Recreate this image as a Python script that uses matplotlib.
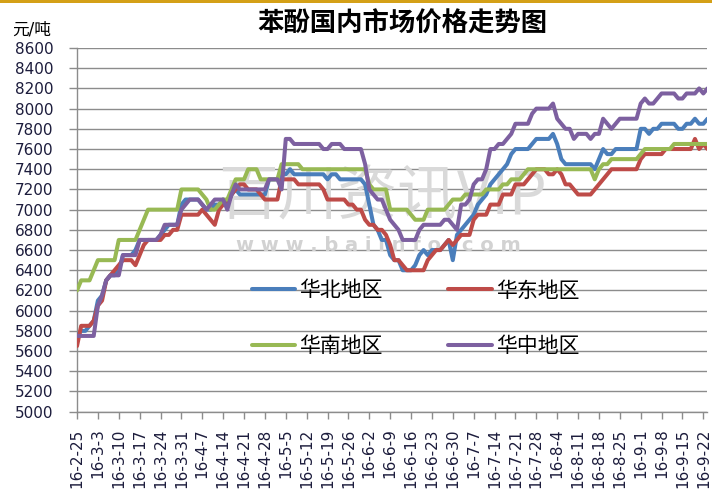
import matplotlib
matplotlib.use('Agg')
import matplotlib.pyplot as plt
import numpy as np

plt.rcParams['font.family'] = ['DejaVu Sans', 'Noto Sans CJK SC']

# weekly tick labels, one every 5 trading days
tick_labels = ['16-2-25', '16-3-3', '16-3-10', '16-3-17', '16-3-24', '16-3-31',
               '16-4-7', '16-4-14', '16-4-21', '16-4-28', '16-5-5', '16-5-12',
               '16-5-19', '16-5-26', '16-6-2', '16-6-9', '16-6-16', '16-6-23',
               '16-6-30', '16-7-7', '16-7-14', '16-7-21', '16-7-28', '16-8-4',
               '16-8-11', '16-8-18', '16-8-25', '16-9-1', '16-9-8', '16-9-15',
               '16-9-22']

names = ['华北地区', '华东地区', '华南地区', '华中地区']

# daily prices (yuan/ton), 5 values per row = one week
north = [5750, 5800, 5800, 5850, 5900,
         6100, 6150, 6300, 6350, 6350,
         6400, 6550, 6550, 6550, 6600,
         6700, 6700, 6700, 6700, 6700,
         6750, 6800, 6850, 6850, 6850,
         7050, 7100, 7100, 7100, 7100,
         7050, 7000, 7000, 7050, 7050,
         7100, 7050, 7150, 7200, 7150,
         7150, 7150, 7150, 7150, 7150,
         7150, 7300, 7300, 7300, 7350,
         7350, 7400, 7350, 7350, 7350,
         7350, 7350, 7350, 7350, 7350,
         7300, 7350, 7350, 7300, 7300,
         7300, 7300, 7300, 7300, 7250,
         7050, 6850, 6800, 6700, 6700,
         6550, 6500, 6500, 6400, 6400,
         6400, 6450, 6550, 6600, 6550,
         6600, 6600, 6600, 6650, 6700,
         6500, 6750, 6800, 6850, 6900,
         6950, 7050, 7100, 7150, 7250,
         7300, 7350, 7400, 7450, 7550,
         7600, 7600, 7600, 7600, 7650,
         7700, 7700, 7700, 7700, 7750,
         7650, 7500, 7450, 7450, 7450,
         7450, 7450, 7450, 7450, 7400,
         7500, 7600, 7550, 7550, 7600,
         7600, 7600, 7600, 7600, 7600,
         7800, 7800, 7750, 7800, 7800,
         7850, 7850, 7850, 7850, 7800,
         7800, 7850, 7850, 7900, 7850,
         7850, 7900]

east = [5650, 5850, 5850, 5850, 5900,
        6050, 6100, 6300, 6350, 6400,
        6450, 6500, 6500, 6500, 6450,
        6550, 6650, 6700, 6700, 6700,
        6700, 6750, 6750, 6800, 6800,
        6950, 6950, 6950, 6950, 6950,
        7000, 6950, 6900, 6850, 7000,
        7050, 7050, 7150, 7200, 7250,
        7250, 7200, 7200, 7200, 7150,
        7100, 7100, 7100, 7100, 7300,
        7300, 7300, 7300, 7250, 7250,
        7250, 7250, 7250, 7250, 7200,
        7100, 7100, 7100, 7100, 7100,
        7050, 7050, 7000, 7000, 6900,
        6850, 6850, 6800, 6800, 6750,
        6650, 6500, 6500, 6450, 6400,
        6400, 6400, 6400, 6400, 6500,
        6550, 6600, 6600, 6650, 6700,
        6650, 6700, 6750, 6750, 6750,
        6900, 6950, 6950, 6950, 7050,
        7050, 7050, 7150, 7150, 7150,
        7250, 7250, 7250, 7300, 7350,
        7400, 7400, 7400, 7350, 7350,
        7400, 7350, 7250, 7250, 7200,
        7150, 7150, 7150, 7150, 7200,
        7250, 7300, 7350, 7400, 7400,
        7400, 7400, 7400, 7400, 7400,
        7500, 7550, 7550, 7550, 7550,
        7550, 7600, 7600, 7600, 7600,
        7600, 7600, 7600, 7700, 7600,
        7650, 7600]

south = [6200, 6300, 6300, 6300, 6400,
         6500, 6500, 6500, 6500, 6500,
         6700, 6700, 6700, 6700, 6700,
         6800, 6900, 7000, 7000, 7000,
         7000, 7000, 7000, 7000, 7000,
         7200, 7200, 7200, 7200, 7200,
         7150, 7100, 7000, 7000, 7050,
         7100, 7100, 7200, 7300, 7300,
         7300, 7400, 7400, 7400, 7300,
         7300, 7300, 7300, 7300, 7450,
         7450, 7450, 7450, 7450, 7400,
         7400, 7400, 7400, 7400, 7400,
         7400, 7400, 7400, 7400, 7400,
         7400, 7400, 7400, 7400, 7400,
         7250, 7200, 7200, 7200, 7200,
         7000, 7000, 7000, 7000, 7000,
         6950, 6900, 6900, 6900, 7000,
         7000, 7000, 7000, 7000, 7050,
         7100, 7100, 7100, 7150, 7150,
         7150, 7150, 7150, 7200, 7200,
         7200, 7200, 7250, 7250, 7300,
         7300, 7300, 7350, 7400, 7400,
         7400, 7400, 7400, 7400, 7400,
         7400, 7400, 7400, 7400, 7400,
         7400, 7400, 7400, 7400, 7300,
         7400, 7450, 7450, 7500, 7500,
         7500, 7500, 7500, 7500, 7500,
         7550, 7600, 7600, 7600, 7600,
         7600, 7600, 7600, 7650, 7650,
         7650, 7650, 7650, 7650, 7650,
         7650, 7650]

central = [5750, 5750, 5750, 5750, 5750,
           6050, 6150, 6300, 6350, 6350,
           6350, 6550, 6550, 6550, 6550,
           6700, 6700, 6700, 6700, 6700,
           6750, 6850, 6850, 6850, 6850,
           7000, 7050, 7100, 7100, 7100,
           7050, 7000, 7050, 7100, 7100,
           7100, 7000, 7150, 7250, 7200,
           7200, 7200, 7200, 7200, 7200,
           7200, 7300, 7300, 7300, 7200,
           7700, 7700, 7650, 7650, 7650,
           7650, 7650, 7650, 7650, 7600,
           7600, 7650, 7650, 7650, 7600,
           7600, 7600, 7600, 7600, 7450,
           7200, 7150, 7100, 7100, 7000,
           6900, 6850, 6800, 6700, 6700,
           6700, 6700, 6800, 6850, 6850,
           6850, 6850, 6850, 6900, 6900,
           6850, 6800, 7050, 7050, 7100,
           7250, 7300, 7300, 7400, 7600,
           7600, 7650, 7650, 7700, 7750,
           7850, 7850, 7850, 7850, 7950,
           8000, 8000, 8000, 8000, 8050,
           7900, 7850, 7800, 7800, 7700,
           7750, 7750, 7750, 7700, 7750,
           7750, 7900, 7850, 7800, 7850,
           7900, 7900, 7900, 7900, 7900,
           8050, 8100, 8050, 8050, 8100,
           8150, 8150, 8150, 8150, 8100,
           8100, 8150, 8150, 8150, 8200,
           8150, 8200]

colors = ['#4A7EBB', '#BE4B48', '#98B954', '#7D60A0']

fig = plt.figure(figsize=(7.12, 4.91), dpi=100)
ax = fig.add_axes([77 / 712, 1 - 411.7 / 491, 630.5 / 712, 363.7 / 491])

# watermark
ax.text(382 / 712, 1 - 198 / 491, '百川资讯VIP', transform=fig.transFigure,
        fontsize=43, color='#d9d9d9', ha='center', va='center', zorder=1,
        family=['Noto Sans CJK SC', 'DejaVu Sans'])
ax.text(378 / 712, 1 - 246 / 491, 'w w w . b a i i n f o . c o m', transform=fig.transFigure,
        fontsize=14, color='#d2d2d2', ha='center', va='center', zorder=1,
        fontweight='bold')

lines = []
for vals, name, c in zip([north, east, south, central], names, colors):
    x = np.arange(len(vals))
    ln, = ax.plot(x, vals, color=c, lw=2.9, label=name, zorder=3,
                  solid_joinstyle='round', solid_capstyle='round')
    lines.append(ln)

ax.set_xlim(0, len(north) - 1)
ax.set_ylim(5000, 8600)
ax.set_yticks(np.arange(5000, 8601, 200))
ax.set_xticks(np.arange(0, 5 * len(tick_labels), 5))
ax.set_xticklabels(tick_labels, rotation=90)

ax.yaxis.grid(True, color='#8c8c8c', lw=1.0)
ax.set_axisbelow(True)
for s in ['top', 'right']:
    ax.spines[s].set_visible(False)
for s in ['left', 'bottom']:
    ax.spines[s].set_color('#8c8c8c')
    ax.spines[s].set_linewidth(1.0)

ax.tick_params(axis='y', length=6, width=1.0, color='#8c8c8c', pad=11,
               labelsize=11, labelcolor='#1c1c3c')
ax.tick_params(axis='x', length=5, width=1.0, color='#8c8c8c', pad=7,
               labelsize=11, labelcolor='#1c1c3c')

# legend: row 1 华北 / 华东, row 2 华南 / 华中
order = [0, 2, 1, 3]
ax.legend([lines[i] for i in order], [names[i] for i in order], ncol=2,
          loc='upper left', bbox_to_anchor=(252 / 712, 1 - 280.5 / 491),
          bbox_transform=fig.transFigure, frameon=False, fontsize=15,
          handlelength=2.07, handletextpad=0.2, columnspacing=3.15,
          labelspacing=1.71, borderpad=0, borderaxespad=0)

fig.text(12 / 712, 1 - 30 / 491, '元/吨', fontsize=12, va='center', ha='left')
fig.text(402 / 712, 1 - 25 / 491, '苯酚国内市场价格走势图', fontsize=19,
         fontweight='bold', ha='center', va='center')

# gold rule at the very top
fig.add_artist(plt.Rectangle((0, 1 - 3 / 491), 1, 3 / 491, transform=fig.transFigure,
                             color='#D4A017', lw=0))

fig.savefig('out.png', dpi=100)
